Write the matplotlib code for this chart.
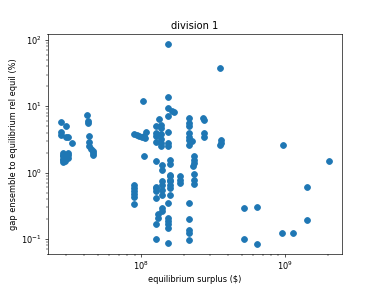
import matplotlib
matplotlib.use("Agg")
import matplotlib.pyplot as plt

# equilibrium surplus ($) and gap (%) per instance
surplus = [
    # ~3e7 group
    2.76e7, 2.99e7, 2.77e7, 2.78e7, 2.99e7, 3.07e7, 3.32e7,
    2.86e7, 3.10e7, 2.86e7, 3.10e7, 2.86e7, 3.05e7, 2.86e7, 3.10e7, 2.86e7, 2.95e7, 2.86e7,
    # ~4.4e7 group
    4.20e7, 4.25e7, 4.25e7, 4.32e7, 4.32e7, 4.36e7, 4.48e7, 4.61e7, 4.65e7, 4.65e7,
    # ~1e8 group
    8.94e7, 9.33e7, 9.73e7, 1.01e8, 1.05e8, 1.08e8, 1.07e8, 1.05e8, 1.03e8,
    8.94e7, 8.94e7, 8.94e7, 8.94e7, 8.94e7, 8.94e7,
    # ~1.3e8
    1.27e8, 1.27e8, 1.27e8, 1.27e8, 1.27e8, 1.27e8, 1.27e8, 1.27e8, 1.27e8, 1.27e8, 1.27e8,
    1.31e8, 1.31e8, 1.34e8,
    1.37e8, 1.37e8, 1.37e8, 1.37e8, 1.37e8, 1.37e8,
    1.40e8, 1.40e8, 1.40e8, 1.40e8, 1.40e8, 1.40e8, 1.40e8, 1.40e8,
    # ~1.5e8
    1.53e8, 1.53e8, 1.53e8, 1.53e8, 1.53e8, 1.53e8, 1.53e8, 1.53e8, 1.53e8, 1.53e8,
    1.53e8, 1.53e8, 1.53e8,
    1.58e8, 1.58e8, 1.58e8, 1.58e8, 1.58e8, 1.58e8, 1.58e8, 1.58e8, 1.58e8,
    1.65e8, 1.69e8,
    1.85e8, 1.85e8, 1.85e8,
    # ~2.2e8
    2.15e8, 2.16e8, 2.16e8, 2.15e8, 2.15e8, 2.17e8, 2.17e8, 2.15e8, 2.16e8, 2.16e8, 2.16e8, 2.16e8,
    2.26e8,
    2.32e8, 2.32e8, 2.32e8, 2.31e8, 2.32e8, 2.32e8, 2.32e8,
    2.69e8, 2.75e8, 2.72e8, 2.72e8,
    3.54e8, 3.59e8, 3.59e8, 3.56e8,
    # sparse right side
    5.2e8, 6.4e8, 5.2e8, 6.4e8, 9.65e8, 1.15e9, 9.6e8, 1.42e9, 1.42e9, 2.02e9,
]
gap = [
    5.75, 5.0, 4.07, 3.67, 3.43, 3.38, 2.79,
    1.99, 1.99, 1.86, 1.86, 1.76, 1.76, 1.62, 1.68, 1.57, 1.50, 1.45,
    7.4, 5.9, 5.6, 3.62, 2.85, 2.48, 2.27, 2.09, 1.86, 2.0,
    3.8, 3.67, 3.5, 3.43, 3.59, 4.1, 3.35, 1.76, 11.9,
    0.66, 0.59, 0.52, 0.47, 0.43, 0.34,
    5.1, 3.93, 3.58, 2.85, 1.51, 0.61, 0.59, 0.525, 0.41, 0.166, 0.10,
    0.24, 0.21, 6.4,
    5.25, 4.68, 3.84, 3.2, 2.79, 2.54,
    1.32, 1.11, 0.74, 0.66, 0.556, 0.457, 0.296, 0.263,
    86.0, 13.6, 9.3, 7.15, 4.08, 2.79, 2.48, 0.35, 0.21, 0.186, 0.166, 0.145, 0.088,
    1.53, 1.37, 0.93, 0.88, 0.785, 0.74, 0.66, 0.59, 0.457,
    8.5, 8.3,
    0.88, 0.785, 0.70,
    6.75, 5.56, 5.07, 3.93, 3.43, 3.05, 2.63, 0.35, 0.197, 0.135, 0.122, 0.096,
    2.95,
    1.8, 1.57, 1.4, 1.27, 0.966, 0.77, 0.68,
    6.6, 6.2, 3.93, 3.43,
    37.9, 3.05, 2.79, 2.63,
    0.29, 0.30, 0.099, 0.085, 2.63, 0.125, 0.121, 0.60, 0.19, 1.5,
]

fig, ax = plt.subplots(figsize=(6.4, 4.8), dpi=59.375)
ax.scatter(surplus, gap, s=50)
ax.set_xscale("log")
ax.set_yscale("log")
ax.set_title("division 1")
ax.set_xlabel("equilibrium surplus ($)")
ax.set_ylabel("gap ensemble to equilibrium rel equil (%)")

fig.savefig("out.png")
